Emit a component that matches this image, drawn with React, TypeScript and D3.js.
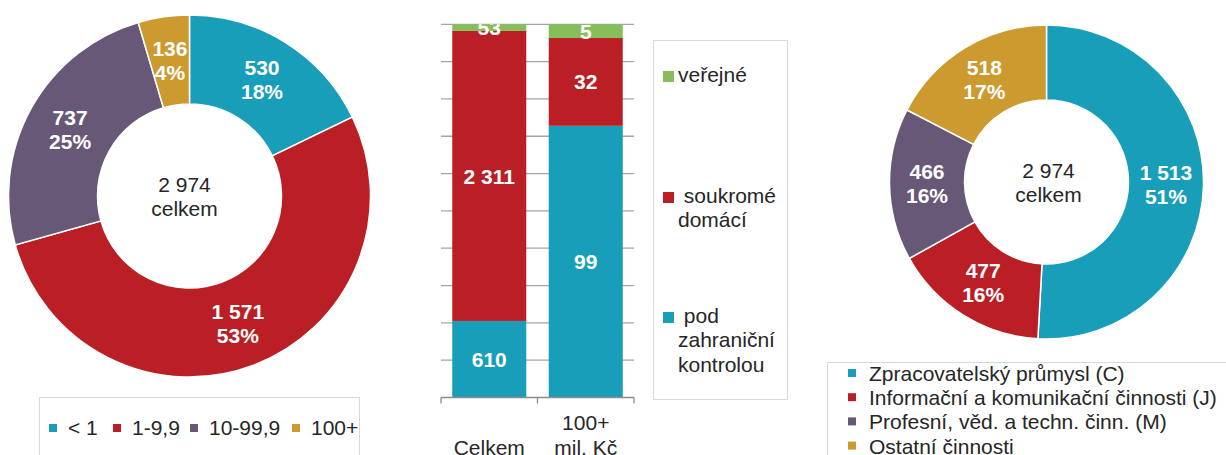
import { useRef, useEffect } from "react";
import * as d3 from "d3";

// left donut: firms by turnover (mil. Kč)
const sizeLabels = ["< 1", "1-9,9", "10-99,9", "100+"];
const sizeValues = [530, 1571, 737, 136];
const sizePct = ["18%", "53%", "25%", "4%"];

// middle stacked bars: ownership
const barCats = ["Celkem", "100+"];
const ownKeys = ["pod", "soukr", "verej"];
const ownLegend = [["veřejné"], [" soukromé", "domácí"], [" pod", "zahraniční", "kontrolou"]];
const ownPod = [610, 99];
const ownSoukr = [2311, 32];
const ownVerej = [53, 5];

// right donut: sectors
const sectorLabels = [
  "Zpracovatelský průmysl (C)",
  "Informační a komunikační činnosti (J)",
  "Profesní, věd. a techn. činn. (M)",
  "Ostatní činnosti",
];
const sectorValues = [1513, 477, 466, 518];
const sectorPct = ["51%", "16%", "16%", "17%"];

const totalLabel = ["2 974", "celkem"];

const teal = "#189eb8";
const red = "#ba1f26";
const purple = "#675877";
const gold = "#cc9a2e";
const green = "#86bf5a";
const donutColors = [teal, red, purple, gold];

const FONT = "'Liberation Sans', Arial, sans-serif";
const fmt = (v: number) => d3.format(",")(v).replace(/,/g, " ");

const App = () => {
  const svgRef = useRef<SVGSVGElement>(null);

  useEffect(() => {
    const svg = d3.select(svgRef.current);
    svg.selectAll("*").remove();
    svg.style("font-family", FONT);

    // ---- donuts ----
    const drawDonut = (
      cx: number,
      cy: number,
      outer: number,
      inner: number,
      values: number[],
      pcts: string[],
      labelDx: number
    ) => {
      const pie = d3.pie<number>().sort(null).value((d) => d);
      const arc = d3.arc<d3.PieArcDatum<number>>().innerRadius(inner).outerRadius(outer);
      const g = svg.append("g").attr("transform", `translate(${cx},${cy})`);
      const arcs = pie(values);
      g.selectAll("path")
        .data(arcs)
        .join("path")
        .attr("d", arc)
        .attr("fill", (d, i) => donutColors[i])
        .attr("stroke", "white")
        .attr("stroke-width", 1.5);
      const lbl = g
        .selectAll("text.lbl")
        .data(arcs)
        .join("text")
        .attr("class", "lbl")
        .attr("transform", (d) => `translate(${arc.centroid(d)})`)
        .attr("text-anchor", "middle")
        .attr("fill", "white")
        .style("font-weight", "bold")
        .style("font-size", "21px");
      lbl.append("tspan").attr("x", 0).attr("y", -5).text((d) => fmt(d.data));
      lbl.append("tspan").attr("x", 0).attr("y", 19).text((d, i) => pcts[i]);
      const ct = g
        .append("text")
        .attr("text-anchor", "middle")
        .attr("fill", "#262626")
        .style("font-size", "21px");
      ct.append("tspan").attr("x", labelDx).attr("y", -4).text(totalLabel[0]);
      ct.append("tspan").attr("x", labelDx).attr("y", 20).text(totalLabel[1]);
    };

    drawDonut(189.5, 196, 181, 92, sizeValues, sizePct, -5);
    drawDonut(1046.5, 182, 157, 82, sectorValues, sectorPct, 2);

    // left legend
    const lg = svg.append("g");
    lg.append("rect")
      .attr("x", 39.5).attr("y", 397.5).attr("width", 320).attr("height", 70)
      .attr("fill", "white").attr("stroke", "#d9d9d9");
    const lx = [49, 113, 190, 292];
    sizeLabels.forEach((s, i) => {
      lg.append("rect").attr("x", lx[i]).attr("y", 424).attr("width", 8).attr("height", 8).attr("fill", donutColors[i]);
      lg.append("text").attr("x", lx[i] + 19).attr("y", 435).attr("fill", "#262626").style("font-size", "21px").text(s);
    });

    // right legend
    const rg = svg.append("g");
    rg.append("rect")
      .attr("x", 827.5).attr("y", 362.5).attr("width", 420).attr("height", 120)
      .attr("fill", "white").attr("stroke", "#d9d9d9");
    sectorLabels.forEach((s, i) => {
      const y = 381 + i * 24.2;
      rg.append("rect").attr("x", 848).attr("y", y - 12).attr("width", 8).attr("height", 8).attr("fill", donutColors[i]);
      rg.append("text").attr("x", 869).attr("y", y).attr("fill", "#262626").style("font-size", "21px").text(s);
    });

    // ---- stacked 100% bars ----
    const rows = barCats.map((c, i) => ({ cat: c, pod: ownPod[i], soukr: ownSoukr[i], verej: ownVerej[i] }));
    const series = d3.stack<any>().keys(ownKeys).offset(d3.stackOffsetExpand)(rows);
    const ownColors: Record<string, string> = { pod: teal, soukr: red, verej: green };

    const left = 441, right = 634, top = 24.3, bottom = 397.5;
    const cat = d3.scaleBand().domain(barCats).range([left, right]);
    const x = d3.scaleBand().domain(barCats).range([left, right]).paddingInner(0.233).paddingOuter(0.1166);
    const y = d3.scaleLinear().domain([0, 1]).range([bottom, top]);

    const bg = svg.append("g");
    bg.selectAll("line.grid")
      .data(y.ticks(10).filter((t) => t > 0))
      .join("line")
      .attr("x1", left).attr("x2", right)
      .attr("y1", (d) => y(d)).attr("y2", (d) => y(d))
      .attr("stroke", "#a6a6a6").attr("stroke-width", 1.3);

    svg.append("defs").append("clipPath").attr("id", "plotClip")
      .append("rect").attr("x", left).attr("y", top).attr("width", right - left).attr("height", bottom - top);

    const plot = bg.append("g").attr("clip-path", "url(#plotClip)");
    series.forEach((s) => {
      plot.selectAll(`rect.${s.key}`)
        .data(s)
        .join("rect")
        .attr("x", (d: any) => x(d.data.cat)!)
        .attr("width", x.bandwidth())
        .attr("y", (d) => y(d[1]))
        .attr("height", (d) => y(d[0]) - y(d[1]))
        .attr("fill", ownColors[s.key]);
      plot.selectAll(`text.${s.key}`)
        .data(s)
        .join("text")
        .attr("x", (d: any) => x(d.data.cat)! + x.bandwidth() / 2)
        .attr("y", (d) => (y(d[0]) + y(d[1])) / 2)
        .attr("dy", "0.36em")
        .attr("text-anchor", "middle")
        .attr("fill", "white")
        .style("font-weight", "bold")
        .style("font-size", "21px")
        .text((d: any) => fmt(d.data[s.key]));
    });

    // bottom axis
    const ax = bg.append("g").attr("stroke", "#8c8c8c").attr("stroke-width", 1.3);
    ax.append("line").attr("x1", left).attr("x2", right).attr("y1", bottom).attr("y2", bottom);
    const tickXs = [left, ...barCats.map((c) => cat(c)! + cat.bandwidth())];
    ax.selectAll("line.tick")
      .data(tickXs)
      .join("line")
      .attr("x1", (d) => d).attr("x2", (d) => d)
      .attr("y1", bottom).attr("y2", bottom + 6);

    const catLines = [["", "Celkem"], ["100+", "mil. Kč"]];
    barCats.forEach((c, i) => {
      const t = bg.append("text")
        .attr("text-anchor", "middle")
        .attr("fill", "#262626")
        .style("font-size", "21px");
      catLines[i].forEach((ln, j) => {
        t.append("tspan").attr("x", cat(c)! + cat.bandwidth() / 2).attr("y", 430 + j * 24.5).text(ln);
      });
    });

    // middle legend
    const mg = svg.append("g");
    mg.append("rect")
      .attr("x", 653.5).attr("y", 40.5).attr("width", 134).attr("height", 359)
      .attr("fill", "white").attr("stroke", "#d9d9d9");
    const legKeys = ["verej", "soukr", "pod"];
    const legY = [82, 203, 323];
    legKeys.forEach((k, i) => {
      mg.append("rect").attr("x", 663).attr("y", legY[i] - 11).attr("width", 11).attr("height", 11).attr("fill", ownColors[k]);
      const t = mg.append("text").attr("fill", "#262626").style("font-size", "21px").attr("xml:space", "preserve");
      ownLegend[i].forEach((ln, j) => {
        t.append("tspan").attr("x", 678).attr("y", legY[i] + j * 24.3).style("white-space", "pre").text(ln);
      });
    });
  }, []);

  return (
    <svg
      ref={svgRef}
      width={1226}
      height={455}
      style={{ position: "absolute", left: 0, top: 0, background: "white" }}
    />
  );
};

export default App;
